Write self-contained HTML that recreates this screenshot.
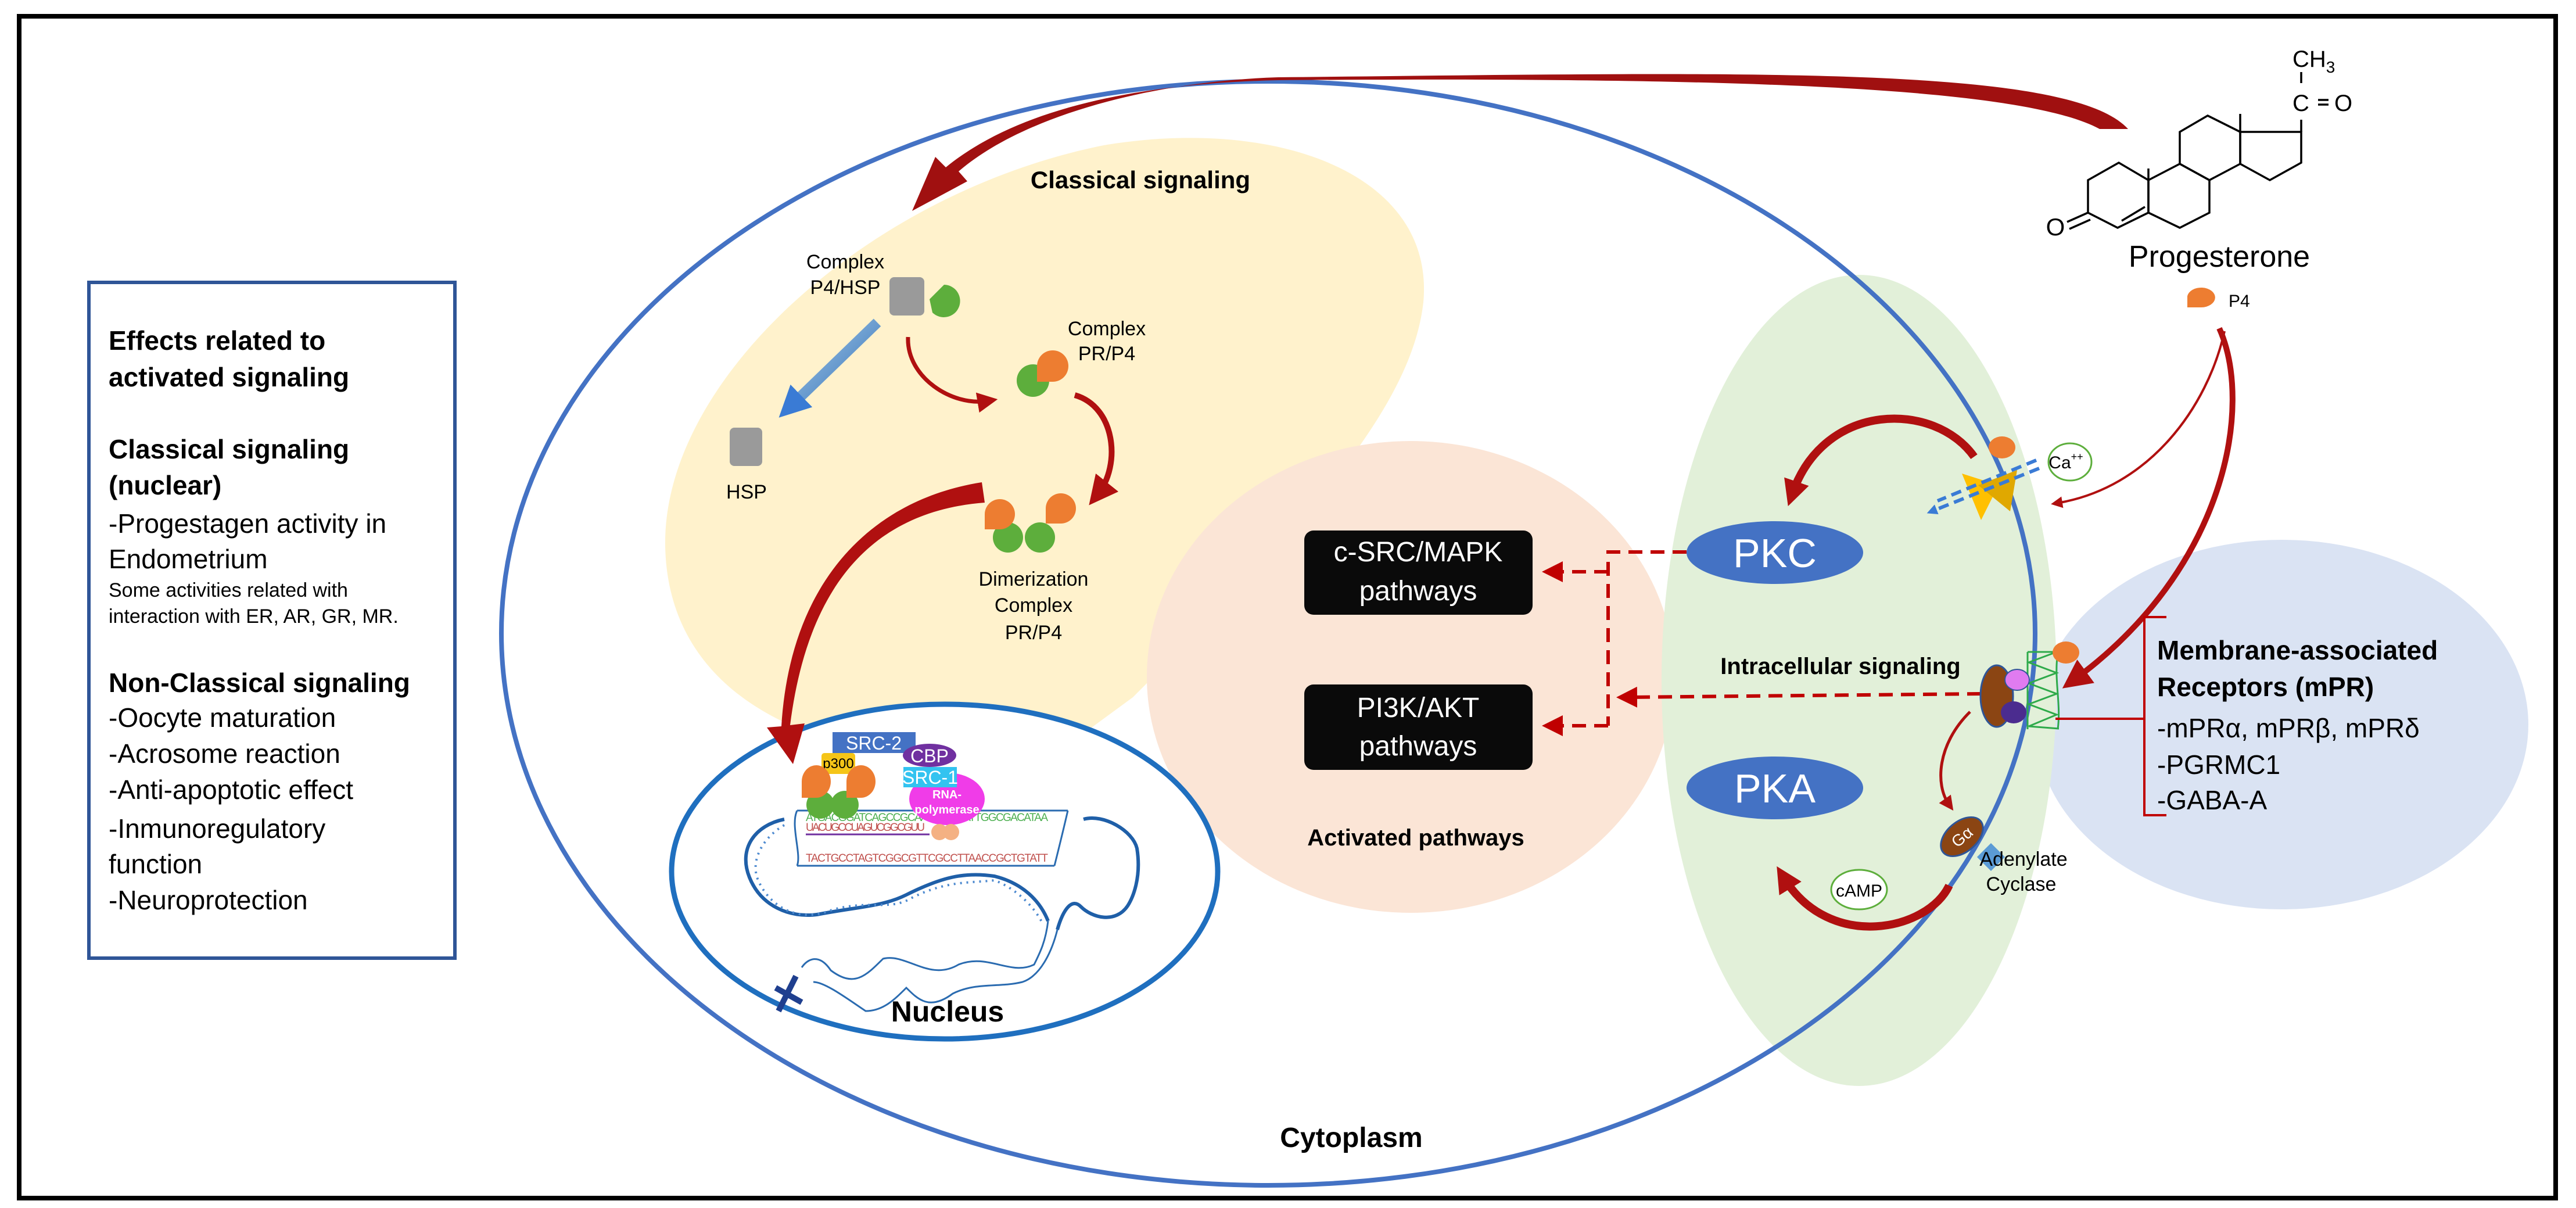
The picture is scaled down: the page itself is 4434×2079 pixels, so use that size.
<!DOCTYPE html>
<html><head><meta charset="utf-8"><style>
html,body{margin:0;padding:0;background:#fff}
svg{display:block}
text{font-family:"Liberation Sans",sans-serif}
</style></head><body>
<svg width="4434" height="2079" viewBox="0 0 4434 2079" xmlns="http://www.w3.org/2000/svg">
<defs>
<linearGradient id="bg" x1="0" y1="0" x2="1" y2="1"><stop offset="0" stop-color="#A9CDEB"/><stop offset="1" stop-color="#2E6DB4"/></linearGradient>
<marker id="ah" markerWidth="6" markerHeight="6" refX="3" refY="3" orient="auto" markerUnits="strokeWidth"><path d="M0,0 L6,3 L0,6 Z" fill="#C00000"/></marker>
<marker id="ah2" markerWidth="5" markerHeight="5" refX="2.5" refY="2.5" orient="auto" markerUnits="strokeWidth"><path d="M0,0 L5,2.5 L0,5 Z" fill="#B01010"/></marker>
<marker id="ah3" markerWidth="3.2" markerHeight="3.2" refX="1.6" refY="1.6" orient="auto" markerUnits="strokeWidth"><path d="M0,0 L3.2,1.6 L0,3.2 Z" fill="#B01010"/></marker>
<marker id="ahb" markerWidth="3" markerHeight="3" refX="1.5" refY="1.5" orient="auto" markerUnits="strokeWidth"><path d="M0,0 L3,1.5 L0,3 Z" fill="#3A7BD5"/></marker>
</defs>
<rect x="0" y="0" width="4434" height="2079" fill="#fff"/>
<rect x="33" y="28" width="4366" height="2034" fill="none" stroke="#000" stroke-width="8"/>

<!-- left box -->
<rect x="153" y="486" width="630" height="1163" fill="#fff" stroke="#2F5597" stroke-width="6"/>
<g font-size="46" fill="#000">
<text x="187" y="602" font-weight="bold">Effects related to</text>
<text x="187" y="665" font-weight="bold">activated signaling</text>
<text x="187" y="789" font-weight="bold">Classical signaling</text>
<text x="187" y="851" font-weight="bold">(nuclear)</text>
<text x="187" y="917">-Progestagen activity in</text>
<text x="187" y="978">Endometrium</text>
<text x="187" y="1027" font-size="34">Some activities related with</text>
<text x="187" y="1072" font-size="34">interaction with ER, AR, GR, MR.</text>
<text x="187" y="1191" font-weight="bold">Non-Classical signaling</text>
<text x="187" y="1251">-Oocyte maturation</text>
<text x="187" y="1313">-Acrosome reaction</text>
<text x="187" y="1375">-Anti-apoptotic effect</text>
<text x="187" y="1442">-Inmunoregulatory</text>
<text x="187" y="1503">function</text>
<text x="187" y="1565">-Neuroprotection</text>
</g>

<!-- background regions -->
<ellipse cx="3928" cy="1247" rx="424" ry="318" fill="#DAE3F3"/>
<path d="M1145,940 C1140,650 1500,330 1900,250 C2200,200 2470,300 2450,520 C2430,700 2250,900 1950,1200 L1800,1310 C1400,1330 1150,1200 1145,940 Z" fill="#FFF2CC"/>
<ellipse cx="2428" cy="1165" rx="454" ry="406" fill="#FBE5D6"/>
<ellipse cx="3200" cy="1171" rx="340" ry="698" fill="#E2F0D9"/>

<!-- cell membrane -->
<ellipse cx="2183" cy="1090" rx="1320" ry="950" fill="none" stroke="#4472C4" stroke-width="8"/>

<!-- nucleus -->
<ellipse cx="1626" cy="1500" rx="470" ry="288" fill="#fff" stroke="#1F6FBF" stroke-width="9"/>
<g fill="none">
<!-- bubble -->
<path d="M1372,1395 L1838,1395 M1372,1490 L1815,1490" stroke="#2A6BB0" stroke-width="3"/>
<path d="M1372,1395 C1360,1420 1380,1470 1372,1490 M1838,1395 C1830,1430 1820,1470 1815,1490" stroke="#2A6BB0" stroke-width="3"/>
<!-- helix strands -->
<path d="M1350,1410 C1300,1420 1270,1460 1290,1510 C1310,1560 1360,1580 1406,1574 C1480,1560 1520,1560 1560,1540 C1620,1510 1660,1500 1712,1508 C1760,1520 1790,1550 1804,1585" stroke="#1F5FA8" stroke-width="6"/>
<path d="M1350,1420 C1315,1440 1290,1480 1305,1515 C1325,1560 1370,1585 1420,1570 C1490,1545 1530,1570 1570,1545 C1630,1515 1670,1520 1712,1515 C1750,1530 1780,1560 1795,1590" stroke="#4F8BD0" stroke-width="4" stroke-dasharray="3,8"/>
<path d="M1865,1410 C1900,1400 1950,1430 1957,1460 C1965,1510 1950,1545 1941,1559 C1920,1590 1880,1580 1860,1560 C1845,1545 1830,1565 1820,1600" stroke="#1F5FA8" stroke-width="6"/>
<path d="M1804,1585 C1800,1620 1790,1640 1780,1660 C1740,1680 1700,1640 1650,1660 C1600,1690 1560,1640 1520,1650 C1490,1680 1470,1700 1430,1670 C1410,1640 1390,1650 1380,1665" stroke="#2A6BB0" stroke-width="3"/>
<path d="M1820,1600 C1810,1640 1790,1680 1760,1690 C1720,1700 1680,1690 1640,1710 C1600,1740 1580,1720 1560,1700 C1540,1720 1520,1740 1490,1740 C1460,1720 1420,1690 1400,1690" stroke="#2A6BB0" stroke-width="3"/>
<path d="M1340,1740 L1370,1680 M1335,1700 L1380,1725" stroke="#1F3F8F" stroke-width="10"/>
</g>
<g font-family="Liberation Mono" font-size="19">
<text x="1387" y="1413" fill="#4CAF50" textLength="417">ATGACGGATCAGCCGCAAGCGGAATTGGCGACATAA</text>
<text x="1387" y="1430" fill="#C0504D" textLength="205">UACUGCCUAGUCGGCGUU</text>
<text x="1387" y="1483" fill="#C0504D" textLength="417">TACTGCCTAGTCGGCGTTCGCCTTAACCGCTGTATT</text>
</g>
<path d="M1387,1436 L1600,1436" stroke="#7030A0" stroke-width="3"/>
<rect x="1433" y="1260" width="143" height="36" fill="#4472C4"/>
<text x="1504" y="1290" font-size="32" fill="#fff" text-anchor="middle">SRC-2</text>
<rect x="1414" y="1296" width="58" height="36" rx="5" fill="#F5C518"/>
<text x="1443" y="1322" font-size="24" text-anchor="middle">p300</text>
<ellipse cx="1630" cy="1375" rx="65" ry="45" fill="#F03CE8"/>
<text x="1630" y="1374" font-size="20" fill="#fff" text-anchor="middle" font-weight="bold">RNA-</text>
<text x="1630" y="1400" font-size="20" fill="#fff" text-anchor="middle" font-weight="bold">polymerase</text>
<ellipse cx="1600" cy="1300" rx="46" ry="20" fill="#7030A0"/>
<text x="1600" y="1312" font-size="32" fill="#fff" text-anchor="middle">CBP</text>
<rect x="1555" y="1320" width="92" height="35" fill="#33C3F0"/>
<text x="1601" y="1349" font-size="32" fill="#fff" text-anchor="middle">SRC-1</text>
<circle cx="1617" cy="1432" r="14" fill="#F4B183"/><circle cx="1637" cy="1432" r="14" fill="#F4B183"/>
<g>
<circle cx="1412" cy="1385" r="24" fill="#5DAE3C"/><circle cx="1454" cy="1385" r="24" fill="#5DAE3C"/>
<path d="M1380,1345 a25,28 0 1,1 25,28 L1380,1373 Z" fill="#ED7D31"/>
<path d="M1457,1345 a25,28 0 1,1 25,28 L1457,1373 Z" fill="#ED7D31"/>
</g>
<text x="1631" y="1758" font-size="50" font-weight="bold" text-anchor="middle">Nucleus</text>

<!-- classical signaling elements -->
<text x="1963" y="324" font-size="42" font-weight="bold" text-anchor="middle">Classical signaling</text>
<text x="1455" y="462" font-size="34" text-anchor="middle">Complex</text>
<text x="1455" y="506" font-size="34" text-anchor="middle">P4/HSP</text>
<rect x="1531" y="477" width="60" height="66" rx="8" fill="#9A9A9A"/>
<path d="M1625,490 a28,28 0 1,1 -20,48 L1600,515 Z" fill="#5DAE3C"/>
<rect x="1256" y="736" width="56" height="66" rx="8" fill="#9A9A9A"/>
<text x="1285" y="858" font-size="34" text-anchor="middle">HSP</text>
<text x="1905" y="577" font-size="34" text-anchor="middle">Complex</text>
<text x="1905" y="620" font-size="34" text-anchor="middle">PR/P4</text>
<circle cx="1778" cy="655" r="28" fill="#5DAE3C"/>
<path d="M1785,630 a27,27 0 1,1 27,27 L1785,657 Z" fill="#ED7D31"/>
<circle cx="1735" cy="925" r="26" fill="#5DAE3C"/><circle cx="1790" cy="925" r="26" fill="#5DAE3C"/>
<path d="M1695,885 a26,26 0 1,1 26,26 L1695,911 Z" fill="#ED7D31"/>
<path d="M1800,875 a26,26 0 1,1 26,26 L1800,901 Z" fill="#ED7D31"/>
<text x="1779" y="1008" font-size="34" text-anchor="middle">Dimerization</text>
<text x="1779" y="1053" font-size="34" text-anchor="middle">Complex</text>
<text x="1779" y="1100" font-size="34" text-anchor="middle">PR/P4</text>
<path d="M1510,555 L1360,700" stroke="url(#bg)" stroke-width="18" marker-end="url(#ahb)"/>
<path d="M1563,580 C1560,650 1640,700 1700,690" fill="none" stroke="#B01010" stroke-width="7" marker-end="url(#ah2)"/>
<path d="M1850,680 C1920,700 1930,800 1890,850" fill="none" stroke="#B01010" stroke-width="10" marker-end="url(#ah2)"/>
<path d="M1690,830 C1500,860 1360,1000 1345,1250 L1320,1252 L1365,1315 L1385,1245 L1360,1248 C1390,1010 1500,880 1695,865 Z" fill="#B01010"/>
<!-- big top arrow -->
<path d="M3663,222 C3560,110 3000,125 2200,133 C1980,140 1760,200 1650,295 L1665,312 L1570,363 L1610,270 L1628,288 C1760,180 1980,143 2200,138 C3000,132 3480,150 3614,222 Z" fill="#A01010"/>

<!-- activated pathways -->
<rect x="2245" y="913" width="393" height="145" rx="16" fill="#0A0A0A"/>
<text x="2441" y="966" font-size="48" fill="#fff" text-anchor="middle">c-SRC/MAPK</text>
<text x="2441" y="1033" font-size="48" fill="#fff" text-anchor="middle">pathways</text>
<rect x="2245" y="1178" width="393" height="147" rx="16" fill="#0A0A0A"/>
<text x="2441" y="1234" font-size="48" fill="#fff" text-anchor="middle">PI3K/AKT</text>
<text x="2441" y="1300" font-size="48" fill="#fff" text-anchor="middle">pathways</text>
<text x="2437" y="1455" font-size="40" font-weight="bold" text-anchor="middle">Activated pathways</text>

<g stroke="#C00000" stroke-width="6" stroke-dasharray="24,14" fill="none">
<path d="M2903,950 L2768,950 L2768,1249"/>
<path d="M2768,984 L2672,984" marker-end="url(#ah)"/>
<path d="M2768,1249 L2672,1249" marker-end="url(#ah)"/>
<path d="M3410,1194 L2800,1200" marker-end="url(#ah)"/>
</g>

<!-- PKC / PKA -->
<ellipse cx="3055" cy="951" rx="152" ry="54" fill="#4472C4"/>
<text x="3055" y="976" font-size="70" fill="#fff" text-anchor="middle">PKC</text>
<ellipse cx="3055" cy="1356" rx="152" ry="54" fill="#4472C4"/>
<text x="3055" y="1381" font-size="70" fill="#fff" text-anchor="middle">PKA</text>
<text x="3168" y="1160" font-size="40" font-weight="bold" text-anchor="middle">Intracellular signaling</text>

<!-- Ca channel -->
<path d="M3398,786 C3330,690 3140,690 3085,850" fill="none" stroke="#B01010" stroke-width="14" marker-end="url(#ah3)"/>
<polygon points="3377,815 3440,835 3410,895" fill="#FFC000"/>
<polygon points="3472,809 3405,835 3460,880" fill="#E0A800"/>
<ellipse cx="3446" cy="770" rx="23" ry="19" fill="#ED7D31"/>
<path d="M3510,806 L3325,880" stroke="#3A7BD5" stroke-width="6" stroke-dasharray="18,10" marker-end="url(#ahb)"/>
<path d="M3505,792 L3335,862" stroke="#3A7BD5" stroke-width="6" stroke-dasharray="18,10"/>
<ellipse cx="3563" cy="795" rx="37" ry="32" fill="#fff" stroke="#5DAE3C" stroke-width="3"/>
<text x="3556" y="806" font-size="30" text-anchor="middle">Ca<tspan font-size="18" dy="-14">++</tspan></text>
<path d="M3829,570 C3800,700 3700,840 3540,866" fill="none" stroke="#B01010" stroke-width="4" marker-end="url(#ah2)"/>
<path d="M3820,565 C3880,700 3830,980 3570,1170" fill="none" stroke="#B01010" stroke-width="10" marker-end="url(#ah2)"/>

<!-- receptor -->
<path d="M3490,1122 L3540,1122 L3492,1140 L3540,1158 L3492,1176 L3540,1194 L3492,1212 L3540,1230 L3492,1250 L3544,1254 M3490,1122 L3490,1255 M3542,1122 C3535,1170 3548,1210 3542,1255" fill="none" stroke="#2EAA4A" stroke-width="3"/>
<ellipse cx="3437" cy="1198" rx="28" ry="53" fill="#8B4513" stroke="#2F5597" stroke-width="3"/>
<ellipse cx="3472" cy="1170" rx="21" ry="18" fill="#E07BF0" stroke="#2F5597" stroke-width="2"/>
<ellipse cx="3466" cy="1226" rx="22" ry="19" fill="#4B2C8F"/>
<ellipse cx="3556" cy="1123" rx="23" ry="19" fill="#ED7D31"/>
<path d="M3538,1237 L3691,1237" stroke="#C00000" stroke-width="4"/>
<path d="M3729,1062 L3691,1062 L3691,1403 L3729,1403" fill="none" stroke="#C00000" stroke-width="4"/>
<g font-size="46">
<text x="3713" y="1135" font-weight="bold">Membrane-associated</text>
<text x="3713" y="1198" font-weight="bold">Receptors (mPR)</text>
<text x="3713" y="1269">-mPRα, mPRβ, mPRδ</text>
<text x="3713" y="1332">-PGRMC1</text>
<text x="3713" y="1393">-GABA-A</text>
</g>
<path d="M3391,1225 C3335,1280 3330,1350 3355,1385" fill="none" stroke="#B01010" stroke-width="5" marker-end="url(#ah2)"/>
<g transform="translate(3377,1440) rotate(-40)"><ellipse rx="42" ry="26" fill="#8B4513" stroke="#2F5597" stroke-width="3"/><text y="10" font-size="28" fill="#fff" text-anchor="middle">Gα</text></g>
<rect x="3410" y="1458" width="34" height="34" fill="#5B9BD5" transform="rotate(45 3427 1475)"/>
<text x="3483" y="1490" font-size="34" text-anchor="middle">Adenylate</text>
<text x="3479" y="1533" font-size="34" text-anchor="middle">Cyclase</text>
<path d="M3355,1524 C3320,1600 3150,1640 3070,1510" fill="none" stroke="#B01010" stroke-width="14" marker-end="url(#ah3)"/>
<ellipse cx="3200" cy="1531" rx="48" ry="34" fill="#fff" stroke="#5DAE3C" stroke-width="3"/>
<text x="3200" y="1543" font-size="30" text-anchor="middle">cAMP</text>

<text x="2326" y="1974" font-size="48" font-weight="bold" text-anchor="middle">Cytoplasm</text>

<!-- progesterone -->
<g fill="none" stroke="#000" stroke-width="3.5">
<polygon points="3594,310 3647,280 3698,310 3698,366 3645,392 3594,366"/>
<polygon points="3698,310 3752,282 3803,310 3803,366 3752,392 3698,366"/>
<polygon points="3752,282 3752,227 3800,199 3856,227 3856,282 3803,310"/>
<polygon points="3856,227 3961,227 3961,280 3907,310 3856,282"/>
<path d="M3652,380 L3692,356"/>
<path d="M3594,366 L3558,382 M3598,378 L3562,394"/>
<path d="M3698,290 L3698,310 M3856,196 L3856,227"/>
<path d="M3961,206 L3961,227 M3961,124 L3961,143"/>
<path d="M3990,172 L4008,172 M3990,180 L4008,180"/>
</g>
<text x="3538" y="405" font-size="42" text-anchor="middle">O</text>
<text x="3946" y="115" font-size="40">CH<tspan font-size="28" dy="10">3</tspan></text>
<text x="3946" y="191" font-size="40">C</text>
<text x="4018" y="191" font-size="40">O</text>
<text x="3820" y="459" font-size="52" text-anchor="middle">Progesterone</text>
<path d="M3765,529 L3765,510 a24,17 0 1,1 24,19 Z" fill="#ED7D31"/>
<text x="3836" y="528" font-size="30">P4</text>
</svg>
</body></html>
